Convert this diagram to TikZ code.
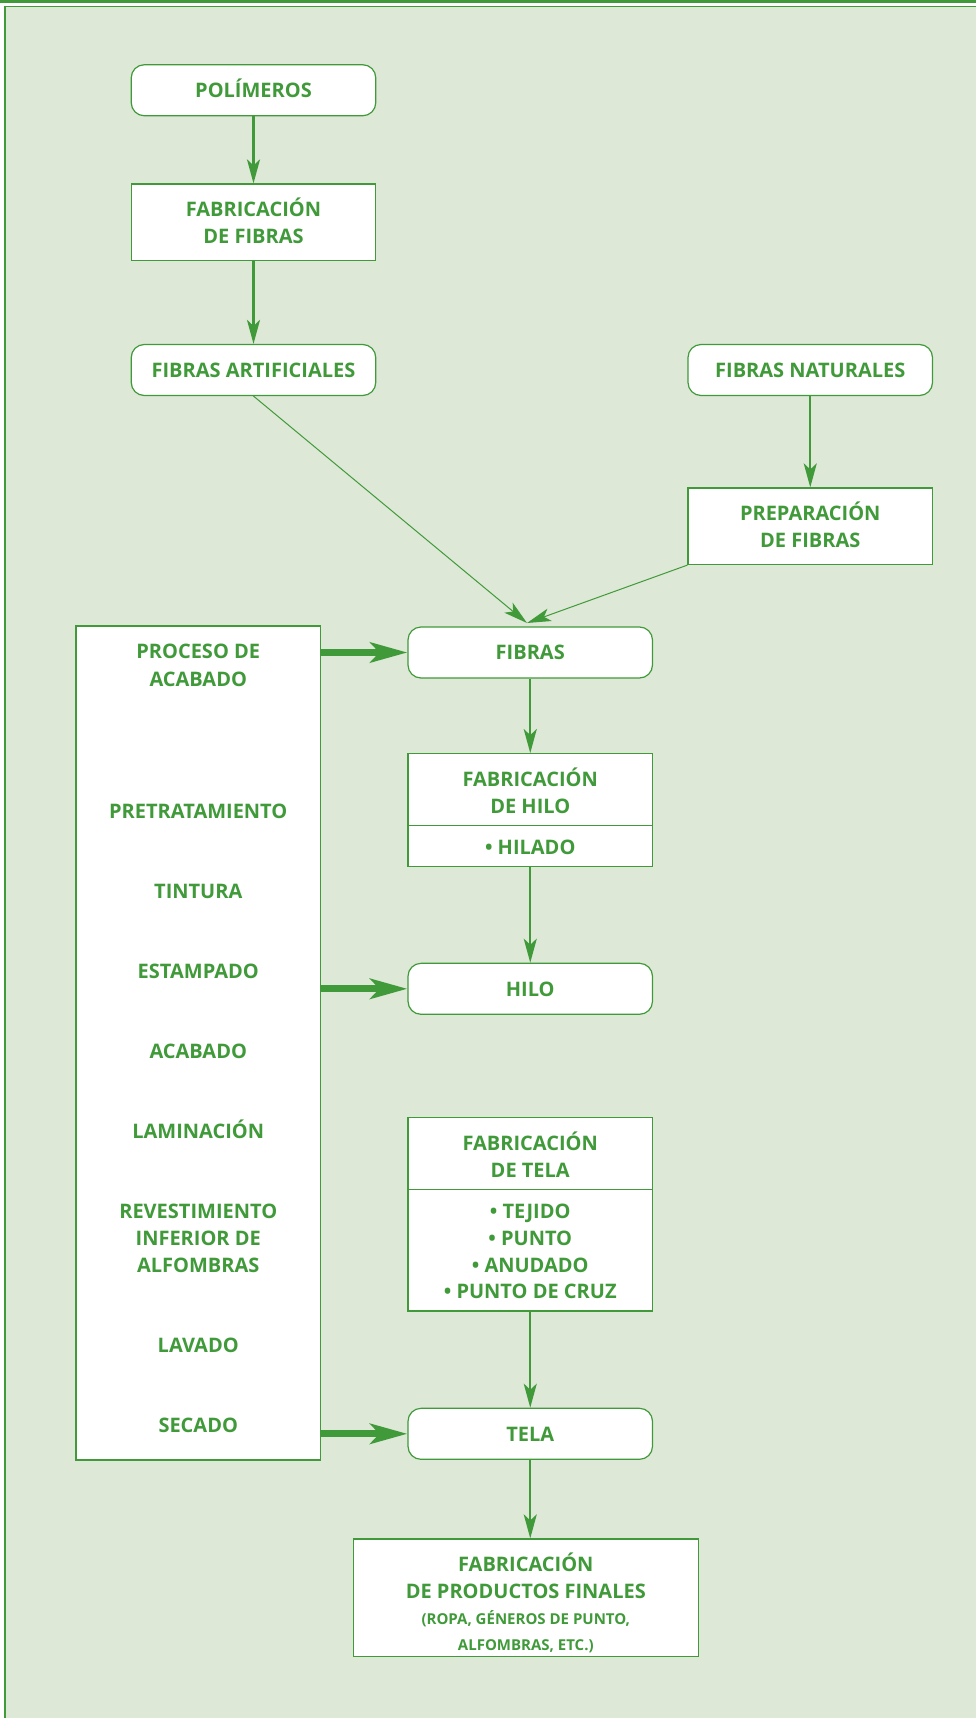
\documentclass[tikz,border=0pt]{standalone}
\usepackage{fontspec}
\setmainfont{Open Sans}
\usetikzlibrary{arrows.meta}
\definecolor{gr}{RGB}{64,154,58}
\definecolor{bgc}{RGB}{221,232,214}
\tikzset{
  box/.style={draw=gr, fill=white, line width=1.2pt, inner sep=0pt, rectangle, minimum width=244.5pt},
  rbox/.style={box, rounded corners=13pt, minimum height=51pt},
  lbl/.style={text=gr, font=\bfseries\fontsize{20}{27}\selectfont, inner sep=0pt, anchor=base},
  slbl/.style={lbl, font=\bfseries\fontsize{15}{27}\selectfont},
  arr/.style={draw=gr, line width=2.3pt, -{Stealth[length=24pt,width=13pt,inset=6pt]}},
  thinarr/.style={draw=gr, line width=1pt, -{Stealth[length=24pt,width=13pt,inset=6pt]}},
  thickarr/.style={draw=gr, line width=7pt, -{Stealth[length=37pt,width=20pt,inset=9pt]}},
}
\newcommand{\lab}[5][lbl]{\node[#1] (#2) at (#3,#4+7.2) {#5};}
\begin{document}
\begin{tikzpicture}[x=1pt,y=-1pt]
\useasboundingbox (0,0) rectangle (976,1718);
\fill[white] (0,0) rectangle (976,1718);
\fill[bgc] (5.6,7.2) rectangle (976,1718);
\fill[gr] (0,0) rectangle (976,3);
\draw[gr,line width=1.6pt] (4,6.5) -- (976,6.5);
\draw[gr,line width=1.6pt] (4.85,6.5) -- (4.85,1718);

% boxes
\node[rbox] (pol) at (253.5,90.25) {};
\node[box, minimum height=76.5pt] (fabfib) at (253.5,222.25) {};
\node[rbox] (fart) at (253.5,370) {};
\node[rbox] (fnat) at (810.25,370) {};
\node[box, minimum height=76.5pt] (prep) at (810.25,526.25) {};
\node[rbox] (fibras) at (530.25,652.5) {};
\node[box, minimum height=834pt] (left) at (198.25,1043) {};
\node[box, minimum height=113pt] (fhilo) at (530.25,810.2) {};
\node[rbox] (hilo) at (530.25,988.8) {};
\node[box, minimum height=193.3pt] (ftela) at (530.25,1214.35) {};
\node[rbox] (tela) at (530.25,1433.8) {};
\node[box, minimum width=345pt, minimum height=117.7pt] (final) at (525.8,1597.85) {};

% dividers
\coordinate (dh) at (530.25,825.3);
\draw[gr,line width=1.2pt] (fhilo.west |- dh) -- (fhilo.east |- dh);
\coordinate (dt) at (530.25,1189.3);
\draw[gr,line width=1.2pt] (ftela.west |- dt) -- (ftela.east |- dt);

% labels
\lab{tpol}{253.5}{90.25}{POLÍMEROS}
\lab{tff1}{253.5}{209}{FABRICACIÓN}
\lab{tff2}{253.5}{236.5}{DE FIBRAS}
\lab{tfart}{253.5}{370}{FIBRAS ARTIFICIALES}
\lab{tfnat}{810.25}{370}{FIBRAS NATURALES}
\lab{tpr1}{810.25}{513}{PREPARACIÓN}
\lab{tpr2}{810.25}{540.5}{DE FIBRAS}
\lab{tfib}{530.25}{652.5}{FIBRAS}
\lab{tfh1}{530.25}{779}{FABRICACIÓN}
\lab{tfh2}{530.25}{806}{DE HILO}
\lab{tfh3}{530.25}{847.3}{• HILADO}
\lab{thilo}{530.25}{988.8}{HILO}
\lab{tft1}{530.25}{1143}{FABRICACIÓN}
\lab{tft2}{530.25}{1170}{DE TELA}
\lab{tft3}{530.25}{1211.7}{• TEJIDO}
\lab{tft4}{530.25}{1238.5}{• PUNTO}
\lab{tft5}{530.25}{1265}{• ANUDADO}
\lab{tft6}{530.25}{1291.7}{• PUNTO DE CRUZ}
\lab{ttela}{530.25}{1433.8}{TELA}
\lab{tfi1}{525.8}{1564}{FABRICACIÓN}
\lab{tfi2}{525.8}{1591}{DE PRODUCTOS FINALES}
\lab[slbl]{tfi3}{525.8}{1617}{(ROPA, GÉNEROS DE PUNTO,}
\lab[slbl]{tfi4}{525.8}{1643.5}{ALFOMBRAS, ETC.)}

\lab{tl1}{198.25}{651.7}{PROCESO DE}
\lab{tl2}{198.25}{679}{ACABADO}
\lab{tl3}{198.25}{811.7}{PRETRATAMIENTO}
\lab{tl4}{198.25}{891.7}{TINTURA}
\lab{tl5}{198.25}{971.7}{ESTAMPADO}
\lab{tl6}{198.25}{1051.7}{ACABADO}
\lab{tl7}{198.25}{1131.7}{LAMINACIÓN}
\lab{tl8}{198.25}{1211.7}{REVESTIMIENTO}
\lab{tl9}{198.25}{1238.7}{INFERIOR DE}
\lab{tl10}{198.25}{1265.7}{ALFOMBRAS}
\lab{tl11}{198.25}{1345.7}{LAVADO}
\lab{tl12}{198.25}{1425.7}{SECADO}

% connectors
\draw[arr] (pol) -- (fabfib);
\draw[arr] (fabfib) -- (fart);
\draw[arr] (fnat) -- (prep);
\coordinate (tip) at (527,623);
\draw[thinarr] (fart.south) -- (tip);
\draw[thinarr] (prep.south west) -- (tip);
\draw[arr] (fibras) -- (fhilo);
\draw[arr] (fhilo) -- (hilo);
\draw[arr] (ftela) -- (tela);
\draw[arr] (tela.south) -- (tela.south |- final.north);
\draw[thickarr] (left.east |- fibras) -- (fibras.west);
\draw[thickarr] (left.east |- hilo) -- (hilo.west);
\draw[thickarr] (left.east |- tela) -- (tela.west);
\end{tikzpicture}
\end{document}
